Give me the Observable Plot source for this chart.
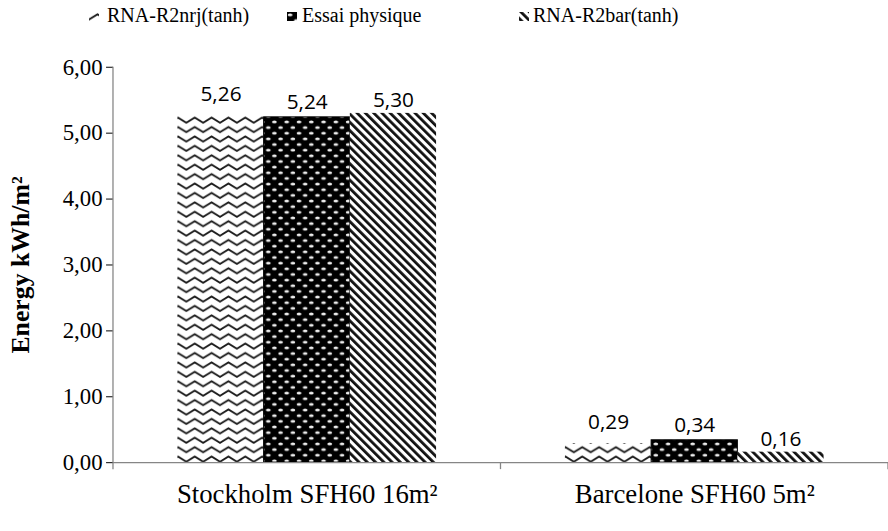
<!DOCTYPE html>
<html>
<head>
<meta charset="utf-8">
<script src="https://cdn.jsdelivr.net/npm/d3@7"></script>
<script src="https://cdn.jsdelivr.net/npm/@observablehq/plot@0.6"></script>
<style>
  html, body { margin: 0; padding: 0; background: #fff; overflow: hidden; width: 888px; height: 531px; }
  #legend { position: relative; width: 888px; height: 40px; font-family: "Liberation Serif", "Times New Roman", serif; font-size: 20px; color: #000; }
  #legend .sw { position: absolute; top: 12px; width: 10px; height: 9px; }
  #legend .lab { position: absolute; top: 5px; line-height: 20px; white-space: nowrap; }
  #chart svg { display: block; }
  g[aria-label="y-axis tick"] { stroke: #868686; }
  g[aria-label="y-axis label"] { font-weight: bold; font-size: 26px; }
</style>
</head>
<body>
<svg width="0" height="0" style="position:absolute">
  <defs>
    <pattern id="pat-zig" patternUnits="userSpaceOnUse" width="17" height="9.5">
      <rect width="17" height="9.5" fill="#fff"/>
      <path d="M-0.5,7.8 L8.5,2.2 L17.5,7.8" fill="none" stroke="#1a1a1a" stroke-width="1.9"/>
    </pattern>
    <pattern id="pat-dot" patternUnits="userSpaceOnUse" width="12.4" height="11.4">
      <rect width="12.4" height="11.4" fill="#000"/>
      <ellipse cx="3.1" cy="2.85" rx="2.4" ry="1.5" fill="#eee"/>
      <ellipse cx="9.3" cy="8.55" rx="2.4" ry="1.5" fill="#eee"/>
    </pattern>
    <pattern id="pat-diag" patternUnits="userSpaceOnUse" width="5.9" height="5.9" patternTransform="rotate(-45)">
      <rect width="5.9" height="5.9" fill="#fff"/>
      <rect width="2.8" height="5.9" fill="#111"/>
    </pattern>
  </defs>
</svg>
<div id="legend"></div>
<div id="chart"></div>
<script>
// ---- data ----
const categories = ["Stockholm SFH60 16m²", "Barcelone SFH60 5m²"];
const seriesNames = ["RNA-R2nrj(tanh)", "Essai physique", "RNA-R2bar(tanh)"];
const valuesNrj = [5.26, 0.29];
const valuesEssai = [5.24, 0.34];
const valuesBar = [5.30, 0.16];
const yTicks = [0, 1, 2, 3, 4, 5, 6];

// ---- styles ----
const patternBySeries = {
  "RNA-R2nrj(tanh)": "url(#pat-zig)",
  "Essai physique": "url(#pat-dot)",
  "RNA-R2bar(tanh)": "url(#pat-diag)"
};
const labelDyBySeries = {
  "RNA-R2nrj(tanh)": -15,
  "Essai physique": -8,
  "RNA-R2bar(tanh)": -6
};

const seriesValues = [valuesNrj, valuesEssai, valuesBar];
const data = [];
categories.forEach((c, i) => {
  seriesNames.forEach((s, j) => {
    data.push({category: c, series: s, value: seriesValues[j][i]});
  });
});

const fmt = d => d.toFixed(2).replace(".", ",");

// ---- legend ----
const legend = document.getElementById("legend");
const swatchLeft = [89, 287, 519];
const textLeft = [107, 302, 533];
seriesNames.forEach((s, i) => {
  const sw = document.createElementNS("http://www.w3.org/2000/svg", "svg");
  sw.setAttribute("class", "sw");
  sw.setAttribute("width", "10");
  sw.setAttribute("height", "9");
  sw.style.left = swatchLeft[i] + "px";
  const r = document.createElementNS("http://www.w3.org/2000/svg", "rect");
  r.setAttribute("width", "10");
  r.setAttribute("height", "9");
  r.setAttribute("fill", patternBySeries[s]);
  sw.appendChild(r);
  legend.appendChild(sw);
  const t = document.createElement("span");
  t.className = "lab";
  t.style.left = textLeft[i] + "px";
  t.textContent = s;
  legend.appendChild(t);
});

// ---- chart ----
const labelMarks = seriesNames.map(s =>
  Plot.text(data.filter(d => d.series === s), {
    fx: "category", x: "series", y: "value",
    text: d => fmt(d.value),
    lineAnchor: "bottom",
    dy: labelDyBySeries[s],
    fontFamily: "'Open Sans', sans-serif",
    fontSize: 21,
    fill: "#000"
  })
);

const plot = Plot.plot({
  width: 896,
  height: 491,
  marginLeft: 113,
  marginRight: 0,
  marginTop: 27,
  marginBottom: 65,
  style: {fontFamily: "'Liberation Serif', 'Times New Roman', serif", fontSize: "23px", color: "#000", background: "transparent", overflow: "visible"},
  fx: {domain: categories, paddingInner: 0, paddingOuter: 0, label: null},
  x: {domain: seriesNames, paddingInner: 0, paddingOuter: 0.73, axis: null},
  y: {domain: [0, 6], label: null},
  color: {type: "identity"},
  marks: [
    Plot.barY(data, {
      fx: "category", x: "series", y: "value",
      fill: d => patternBySeries[d.series],
      stroke: d => d.series === "Essai physique" ? "#000" : "none",
      strokeWidth: 1
    }),
    Plot.ruleY([0], {stroke: "#868686", strokeWidth: 1.3}),
    Plot.axisY({
      ticks: yTicks, tickFormat: fmt, tickSize: 7, tickPadding: 4, fontSize: 23,
      label: "Energy kWh/m²", labelAnchor: "center", labelOffset: 104, labelArrow: "none"
    }),
    Plot.axisFx({anchor: "bottom", tickSize: 0, tickPadding: 22, fontSize: 27, label: null}),
    ...labelMarks
  ]
});
document.getElementById("chart").appendChild(plot);

// axis lines and category boundary ticks from the plot's scales
const ys = plot.scale("y");
const fxs = plot.scale("fx");
const y0 = ys.apply(0), yTop = ys.apply(6);
const bounds = fxs.domain.map(d => fxs.apply(d));
bounds.push(fxs.apply(fxs.domain[fxs.domain.length - 1]) + fxs.bandwidth);
const ns = "http://www.w3.org/2000/svg";
const g = document.createElementNS(ns, "g");
g.setAttribute("stroke", "#868686");
g.setAttribute("stroke-width", "1.3");
function line(x1, y1, x2, y2) {
  const l = document.createElementNS(ns, "line");
  l.setAttribute("x1", x1); l.setAttribute("y1", y1);
  l.setAttribute("x2", x2); l.setAttribute("y2", y2);
  g.appendChild(l);
}
line(bounds[0], yTop, bounds[0], y0);
bounds.forEach(b => line(b, y0, b, y0 + 7));
plot.appendChild(g);
</script>
</body>
</html>
